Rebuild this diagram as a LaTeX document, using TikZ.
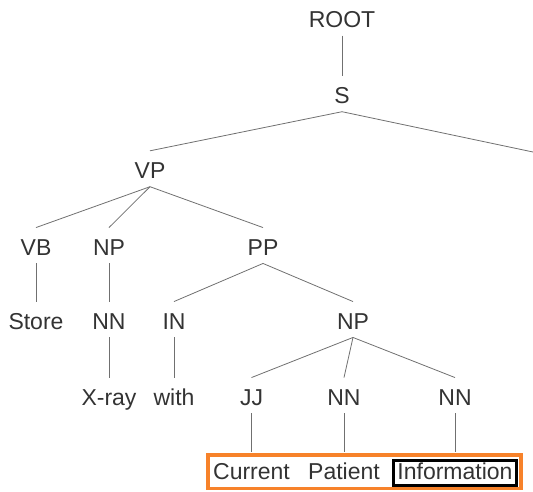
\documentclass[tikz,border=0pt]{standalone}
\usepackage{fontspec}
\setmainfont{Liberation Sans}
\definecolor{txt}{HTML}{333333}
\definecolor{edgegray}{HTML}{707070}
\definecolor{hlorange}{HTML}{F7822A}
\begin{document}
\begin{tikzpicture}[x=1pt,y=-1pt,
  lab/.style={anchor=base, inner xsep=2pt, inner ysep=8.25pt, text height=19pt, text depth=0pt,
              font=\fontsize{23}{23}\selectfont, text=txt},
  br/.style={draw=edgegray, line width=0.8pt}]
\useasboundingbox (0,0) rectangle (533,491);
% nodes
\node[lab] (root) at (342,27.25) {ROOT};
\node[lab] (s) at (342,103.25) {S};
\coordinate (sr) at (533,152);
\node[lab] (vp) at (150,178.25) {VP};
\node[lab] (vb) at (36,255) {VB};
\node[lab] (np1) at (109,255) {NP};
\node[lab] (pp) at (263,255) {PP};
\node[lab] (store) at (36,329) {Store};
\node[lab] (nn1) at (109,329) {NN};
\node[lab] (in) at (174,329) {IN};
\node[lab] (np2) at (353,329) {NP};
\node[lab] (xray) at (109,405) {X-ray};
\node[lab] (with) at (174,405) {with};
\node[lab] (jj) at (251.5,405) {JJ};
\node[lab] (nn2) at (344,405) {NN};
\node[lab] (nn3) at (455,405) {NN};
\node[lab] (current) at (251.5,479.25) {Current};
\node[lab] (patient) at (344,479.25) {Patient};
\node[lab] (info) at (455,479.25) {Information};
% branches
\draw[br] (root.south) -- (s.north);
\draw[br] (s.south) -- (vp.north);
\draw[br] (s.south) -- (sr);
\draw[br] (vp.south) -- (vb.north);
\draw[br] (vp.south) -- (np1.north);
\draw[br] (vp.south) -- (pp.north);
\draw[br] (vb.south) -- (store.north);
\draw[br] (np1.south) -- (nn1.north);
\draw[br] (pp.south) -- (in.north);
\draw[br] (pp.south) -- (np2.north);
\draw[br] (nn1.south) -- (xray.north);
\draw[br] (in.south) -- (with.north);
\draw[br] (np2.south) -- (jj.north);
\draw[br] (np2.south) -- (nn2.north);
\draw[br] (np2.south) -- (nn3.north);
\draw[br] (jj.south) -- (current.north);
\draw[br] (nn2.south) -- (patient.north);
\draw[br] (nn3.south) -- (info.north);
% highlight boxes
\draw[hlorange, line width=3.6pt] (207.8,455) rectangle (521.2,488.4);
\draw[black, line width=3pt] (393.5,460.5) rectangle (516.5,485.5);
\end{tikzpicture}
\end{document}
